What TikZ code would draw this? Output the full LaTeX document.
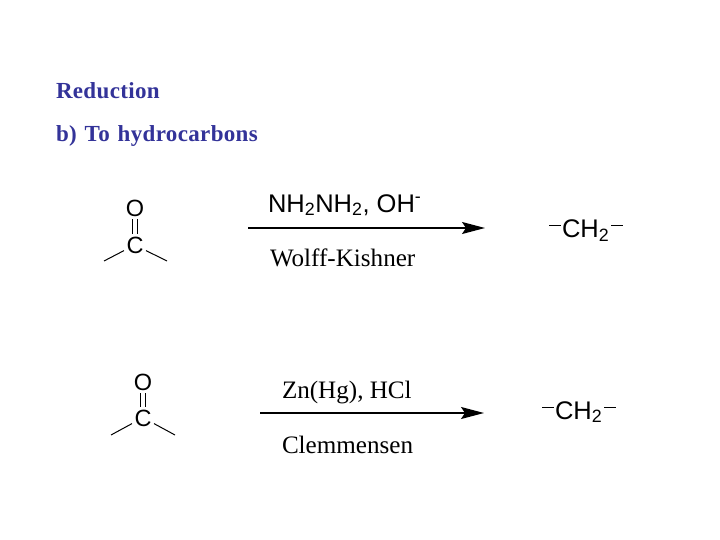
\documentclass[tikz,border=0pt]{standalone}
\usepackage{fontspec}
\setmainfont{Liberation Serif}
\newfontfamily\chemfont{Liberation Sans}
\newfontfamily\headfont[LetterSpace=1.5,WordSpace=1.3]{Liberation Serif}
\usetikzlibrary{arrows.meta}
\definecolor{headblue}{RGB}{51,51,153}
\newcommand{\bonddash}{\raisebox{11.5pt}{\rule{12pt}{1pt}}}
\newcommand{\chtwo}{\bonddash\kern1pt CH\textsubscript{2}\kern2pt\bonddash}
\tikzset{
  every node/.style={inner sep=0pt,outer sep=0pt},
  heading/.style={anchor=base west,text=headblue,font=\headfont\bfseries\fontsize{23}{26}\selectfont},
  atom/.style={font=\chemfont\fontsize{23.5}{26}\selectfont,inner sep=1pt},
  sanslabel/.style={anchor=base west,font=\chemfont\fontsize{25.5}{28}\selectfont},
  seriflabel/.style={anchor=base west,font=\fontsize{25.1}{28}\selectfont},
  bond/.style={line width=1pt},
  dbond/.style={bond,shorten >=2pt,shorten <=2pt},
  reaction/.style={line width=1.6pt,-{Stealth[length=23pt,width=12pt,inset=4pt]}}
}
\begin{document}
\begin{tikzpicture}[x=1pt,y=-1pt]
\useasboundingbox [fill=white] (0,0) rectangle (720,540);
\node [heading] (title) at (56,99) {Reduction};
\node [heading] (subtitle) at (56,142) {b) To hydrocarbons};
% Wolff-Kishner
\node [atom] (O1) at (135,208) {O};
\node [atom] (C1) at (135,245) {C};
\coordinate (L1) at (104,261);
\coordinate (R1) at (167,261);
\draw [dbond] ([xshift=-2.5pt]O1.south) -- ([xshift=-2.5pt]C1.north);
\draw [dbond] ([xshift=2.5pt]O1.south) -- ([xshift=2.5pt]C1.north);
\draw [bond] (C1) ++(-11,5.6) coordinate (CL1) (CL1) -- (L1);
\draw [bond] (C1) ++(11,5.6) coordinate (CR1) (CR1) -- (R1);
\coordinate (A1) at (248,228);
\coordinate (B1) at (485,228);
\draw [reaction] (A1) -- (B1);
\node [sanslabel] (reagent1) at (268,212) {NH\textsubscript{2}NH\textsubscript{2}, OH\textsuperscript{-}};
\node [seriflabel] (name1) at (270,266) {Wolff-Kishner};
\node [sanslabel] (prod1) at (549,237.5) {\chtwo};
% Clemmensen
\node [atom] (O2) at (143,382) {O};
\node [atom] (C2) at (143,418) {C};
\coordinate (L2) at (111,435);
\coordinate (R2) at (175,435);
\draw [dbond] ([xshift=-2.5pt]O2.south) -- ([xshift=-2.5pt]C2.north);
\draw [dbond] ([xshift=2.5pt]O2.south) -- ([xshift=2.5pt]C2.north);
\draw [bond] (C2) ++(-11,5.6) coordinate (CL2) (CL2) -- (L2);
\draw [bond] (C2) ++(11,5.6) coordinate (CR2) (CR2) -- (R2);
\coordinate (A2) at (260,413);
\coordinate (B2) at (484,413);
\draw [reaction] (A2) -- (B2);
\node [seriflabel] (reagent2) at (282,398) {Zn(Hg), HCl};
\node [seriflabel] (name2) at (282,453) {Clemmensen};
\node [sanslabel] (prod2) at (542,419) {\chtwo};
\end{tikzpicture}
\end{document}
